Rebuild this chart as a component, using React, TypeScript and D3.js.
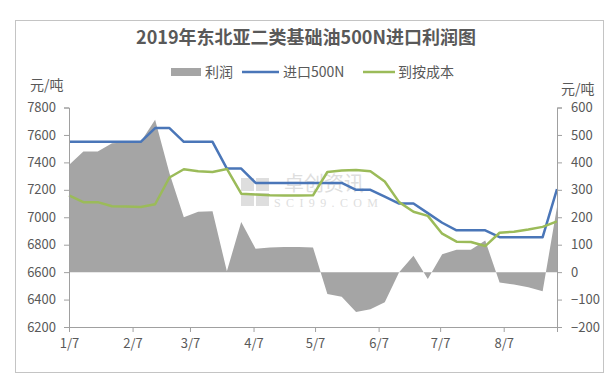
import React, { useEffect, useRef } from 'react';
import * as d3 from 'd3';

// weekly observations (2019, MM-DD)
const dates = [
  '01-07', '01-14', '01-21', '01-28', '02-04', '02-11', '02-18', '02-25', '03-04', '03-11',
  '03-18', '03-25', '04-01', '04-08', '04-15', '04-22', '04-29', '05-06', '05-13', '05-20',
  '05-27', '06-03', '06-10', '06-17', '06-24', '07-01', '07-08', '07-15', '07-22', '07-29',
  '08-05', '08-12', '08-19', '08-26', '09-02',
];

// 利润 (right axis)
const profit = [
  390, 440, 440, 470, 472, 475, 555, 360, 200, 220,
  222, 3, 183, 85, 90, 92, 92, 90, -80, -90,
  -145, -135, -110, 0, 60, -25, 65, 82, 82, 115,
  -38, -45, -55, -70, 237,
];

// 进口500N (left axis)
const import500N = [
  7550, 7550, 7550, 7550, 7550, 7550, 7650, 7650, 7550, 7550,
  7550, 7355, 7355, 7250, 7250, 7250, 7250, 7250, 7250, 7250,
  7200, 7200, 7150, 7100, 7100, 7030, 6960, 6905, 6905, 6905,
  6855, 6855, 6855, 6855, 7205,
];

// 到按成本 (left axis)
const landedCost = [
  7160, 7110, 7110, 7080, 7078, 7075, 7095, 7290, 7350, 7335,
  7330, 7352, 7172, 7165, 7160, 7158, 7158, 7160, 7330, 7340,
  7345, 7335, 7260, 7110, 7040, 7010, 6880, 6822, 6820, 6790,
  6887, 6895, 6910, 6930, 6970,
];

const xTicks = ['01-07', '02-07', '03-07', '04-07', '05-07', '06-07', '07-07', '08-07'];
const leftTicks = [6200, 6400, 6600, 6800, 7000, 7200, 7400, 7600, 7800];
const rightTicks = [-200, -100, 0, 100, 200, 300, 400, 500, 600];

const FONT = "'Noto Sans CJK SC', 'Noto Sans', sans-serif";
const TEXT = '#595959';
const AXIS = '#a0a0a0';

export default function App() {
  const svgRef = useRef<SVGSVGElement>(null);

  useEffect(() => {
    if (!svgRef.current) return;
    const svg = d3.select(svgRef.current);
    svg.selectAll('*').remove();

    const parse = d3.timeParse('%Y-%m-%d');
    const toDate = (s: string) => parse('2019-' + s) as Date;
    const data = dates.map((d, i) => ({
      date: toDate(d),
      p: profit[i],
      imp: import500N[i],
      cost: landedCost[i],
    }));

    const left = 69, right = 557, top = 107.5, bottom = 327;

    const x = d3.scaleTime()
      .domain([toDate(dates[0]), toDate(dates[dates.length - 1])])
      .range([left, right]);
    const yL = d3.scaleLinear().domain([6200, 7800]).range([bottom, top]);
    const yR = d3.scaleLinear().domain([-200, 600]).range([bottom, top]);

    svg.append('rect')
      .attr('width', 616).attr('height', 384).attr('fill', 'white');

    // outer frame
    svg.append('rect')
      .attr('x', 15.5).attr('y', 20.5)
      .attr('width', 588).attr('height', 352)
      .attr('fill', 'none').attr('stroke', '#c4c4c4');

    // title
    svg.append('text')
      .attr('x', 306).attr('y', 44)
      .attr('text-anchor', 'middle')
      .attr('font-family', FONT).attr('font-size', 18).attr('font-weight', 'bold')
      .attr('fill', TEXT)
      .text('2019年东北亚二类基础油500N进口利润图');

    // legend
    const ly = 72;
    const lg = svg.append('g').attr('font-family', FONT).attr('font-size', 14).attr('fill', TEXT);
    lg.append('rect').attr('x', 171).attr('y', ly - 4).attr('width', 30).attr('height', 8).attr('fill', '#a5a5a5');
    lg.append('text').attr('x', 205).attr('y', ly + 5).text('利润');
    lg.append('line').attr('x1', 242).attr('x2', 279).attr('y1', ly).attr('y2', ly)
      .attr('stroke', '#4a76b8').attr('stroke-width', 2.5);
    lg.append('text').attr('x', 283).attr('y', ly + 5).text('进口500N');
    lg.append('line').attr('x1', 363).attr('x2', 395).attr('y1', ly).attr('y2', ly)
      .attr('stroke', '#9bbb59').attr('stroke-width', 2.5);
    lg.append('text').attr('x', 398).attr('y', ly + 5).text('到按成本');

    // unit labels
    svg.append('text').attr('x', 30).attr('y', 90)
      .attr('font-family', FONT).attr('font-size', 14).attr('fill', TEXT).text('元/吨');
    svg.append('text').attr('x', 561).attr('y', 94)
      .attr('font-family', FONT).attr('font-size', 14).attr('fill', TEXT).text('元/吨');

    // watermark
    const wm = svg.append('g').attr('opacity', 0.45);
    [[241, 178], [256, 178], [241, 193], [256, 193]].forEach(([wx, wy]) => {
      wm.append('rect').attr('x', wx).attr('y', wy).attr('width', 13).attr('height', 13).attr('fill', '#b8b8b8');
    });
    wm.append('text').attr('x', 284).attr('y', 191)
      .attr('font-family', FONT).attr('font-size', 20).attr('fill', '#b8b8b8').text('卓创资讯');
    wm.append('text').attr('x', 274).attr('y', 207)
      .attr('font-family', "'Liberation Serif', serif").attr('font-size', 12)
      .attr('textLength', 104).attr('fill', '#b8b8b8').text('SCI99.COM');

    // profit area
    const area = d3.area<typeof data[0]>()
      .x(d => x(d.date))
      .y0(yR(0))
      .y1(d => yR(d.p));
    svg.append('path').datum(data)
      .attr('fill', '#a5a5a5')
      .attr('d', area);

    // lines
    const lineImp = d3.line<typeof data[0]>().x(d => x(d.date)).y(d => yL(d.imp));
    const lineCost = d3.line<typeof data[0]>().x(d => x(d.date)).y(d => yL(d.cost));
    svg.append('path').datum(data)
      .attr('fill', 'none').attr('stroke', '#4a76b8').attr('stroke-width', 2.5)
      .attr('stroke-linejoin', 'round').attr('d', lineImp);
    svg.append('path').datum(data)
      .attr('fill', 'none').attr('stroke', '#9bbb59').attr('stroke-width', 2.5)
      .attr('stroke-linejoin', 'round').attr('d', lineCost);

    // left axis
    const gL = svg.append('g').attr('transform', `translate(${left},0)`)
      .call(d3.axisLeft(yL).tickValues(leftTicks).tickFormat(d3.format('d')).tickSize(5).tickPadding(8));
    // right axis
    const gR = svg.append('g').attr('transform', `translate(${right},0)`)
      .call(d3.axisRight(yR).tickValues(rightTicks).tickFormat(d3.format('d')).tickSize(5).tickPadding(9));
    // bottom axis
    const gB = svg.append('g').attr('transform', `translate(0,${bottom})`)
      .call(d3.axisBottom(x)
        .tickValues(xTicks.map(toDate))
        .tickFormat(d => d3.timeFormat('%-m/%-d')(d as Date))
        .tickSize(5).tickPadding(7));

    [gL, gR, gB].forEach(g => {
      g.select('.domain').attr('stroke', AXIS);
      g.selectAll('.tick line').attr('stroke', AXIS);
      g.selectAll('text').attr('fill', TEXT).attr('font-size', 13).attr('font-family', FONT);
      g.attr('font-family', FONT);
    });
  }, []);

  return (
    <svg
      ref={svgRef}
      width={616}
      height={384}
      style={{ position: 'absolute', left: 0, top: 0, display: 'block' }}
    />
  );
}
